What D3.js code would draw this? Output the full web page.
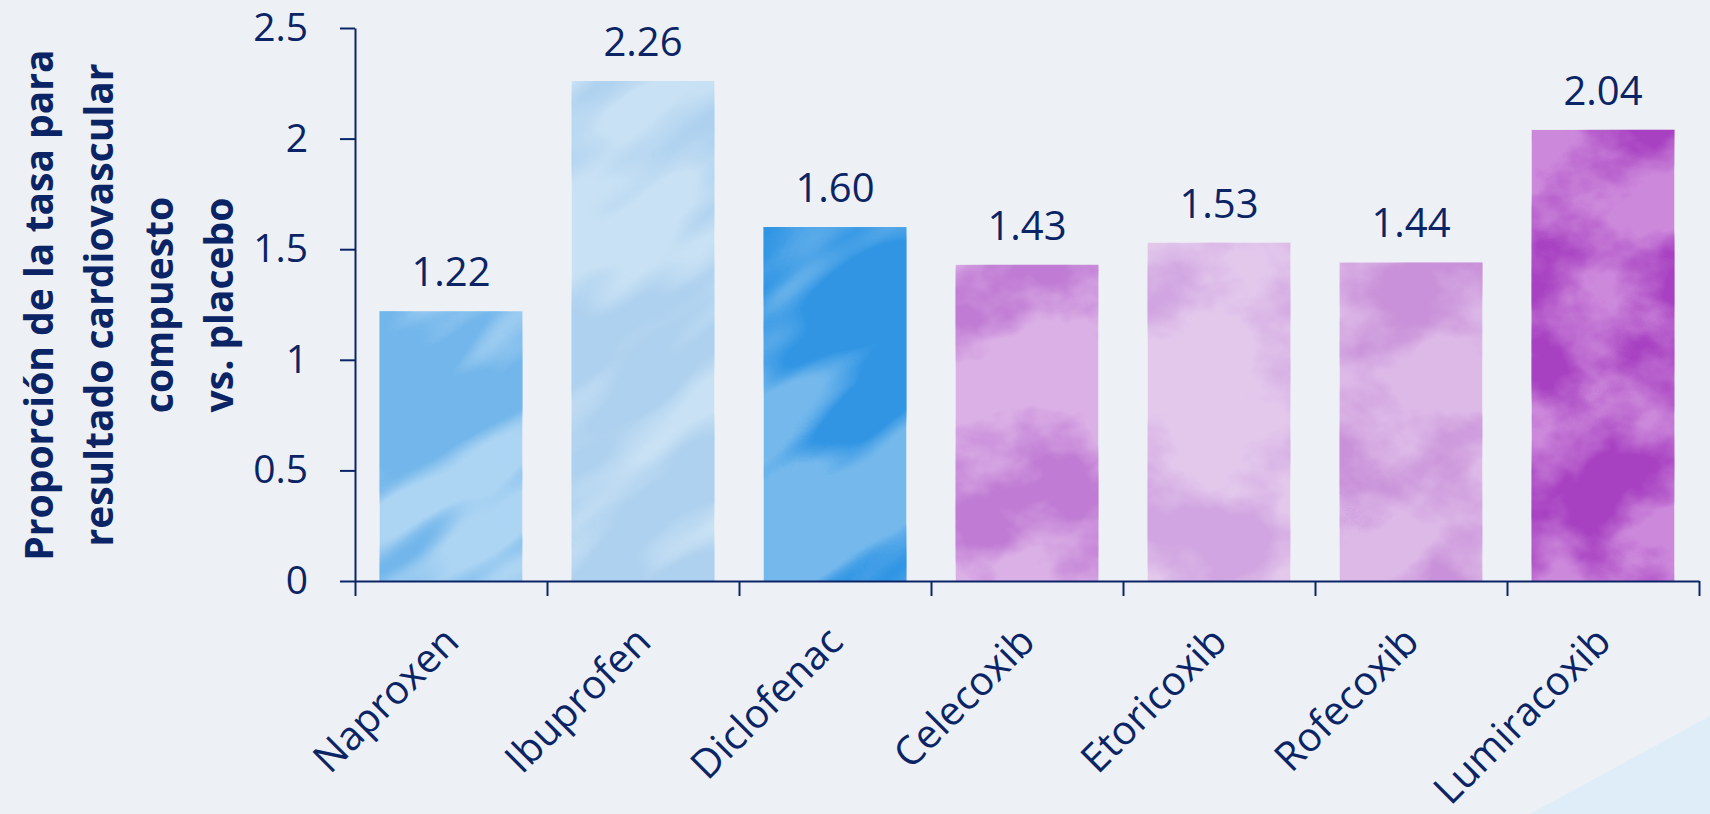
<!DOCTYPE html>
<html>
<head>
<meta charset="utf-8">
<script src="https://cdn.jsdelivr.net/npm/d3@7"></script>
<style>
  html, body { margin: 0; padding: 0; background: #edf1f5; }
  svg { display: block; }
  svg text { font-family: "Open Sans", "Noto Sans", sans-serif; }
</style>
</head>
<body>
<div id="chart"></div>
<script>
const categories = ['Naproxen', 'Ibuprofen', 'Diclofenac', 'Celecoxib', 'Etoricoxib', 'Rofecoxib', 'Lumiracoxib'];
const values = [1.22, 2.26, 1.60, 1.43, 1.53, 1.44, 2.04];
const yTicks = [0, 0.5, 1, 1.5, 2, 2.5];
const yTitleLines = ['Proporción de la tasa para', 'resultado cardiovascular', 'compuesto', 'vs. placebo'];

// watercolor look: a light base and a darker blotchy layer per bar
const baseColors = ['#acd4f3', '#c8e1f4', '#74b8ec', '#dbb0e6', '#e3c8ec', '#ddb9e8', '#cc88db'];
const inkColors = ['#72b6eb', '#aed1ef', '#3095e4', '#c07bd4', '#d1a5e1', '#c991d9', '#a740c1'];

const W = 1710, H = 814;
const navy = '#0b2466';
const FONT = '"Open Sans", "Noto Sans", sans-serif';

const svg = d3.select('#chart').append('svg')
    .attr('width', W)
    .attr('height', H);

// background + pale corner shape
svg.append('rect').attr('width', W).attr('height', H).attr('fill', '#edf1f5');
svg.append('path')
    .attr('d', `M1530,${H}L${W},716L${W},${H}Z`)
    .attr('fill', '#deedf8');

const defs = svg.append('defs');

const x = d3.scaleBand()
    .domain(categories)
    .range([355, 1699])
    .paddingInner(0.255)
    .paddingOuter(0.1275);

const xEdges = d3.scaleLinear()
    .domain([0, categories.length])
    .range([355, 1699]);

const y = d3.scaleLinear()
    .domain([0, 2.5])
    .range([581, 28]);

// noise filters + clips for the bars
categories.forEach((c, i) => {
    const blue = i < 3;
    const f = defs.append('filter')
        .attr('id', 'wc' + i)
        .attr('x', 0).attr('y', 0).attr('width', 1).attr('height', 1);
    f.append('feTurbulence')
        .attr('type', 'fractalNoise')
        .attr('baseFrequency', blue ? '0.0035 0.011' : '0.007 0.009')
        .attr('numOctaves', blue ? 3 : 5)
        .attr('seed', i * 7 + 3)
        .attr('result', 'noise');
    f.append('feColorMatrix')
        .attr('in', 'noise')
        .attr('type', 'matrix')
        .attr('values', '0 0 0 0 0  0 0 0 0 0  0 0 0 0 0  ' + (blue ? '6 0 0 0 -2.25' : '4 0 0 0 -1.6'))
        .attr('result', 'mask');
    f.append('feComposite')
        .attr('in', 'SourceGraphic')
        .attr('in2', 'mask')
        .attr('operator', 'in');

    defs.append('clipPath')
        .attr('id', 'clip' + i)
        .append('rect')
        .attr('x', x(c))
        .attr('y', y(values[i]))
        .attr('width', x.bandwidth())
        .attr('height', y(0) - y(values[i]));
});

const bars = svg.append('g');
const barG = bars.selectAll('g')
    .data(categories)
    .join('g')
    .attr('clip-path', (d, i) => `url(#clip${i})`);

barG.append('rect')
    .attr('x', d => x(d))
    .attr('y', (d, i) => y(values[i]))
    .attr('width', x.bandwidth())
    .attr('height', (d, i) => y(0) - y(values[i]))
    .attr('fill', (d, i) => baseColors[i]);

// ink layer drawn rotated so the blue streaks run diagonally
barG.append('rect')
    .attr('x', d => x(d) - 300)
    .attr('y', (d, i) => y(values[i]) - 300)
    .attr('width', x.bandwidth() + 600)
    .attr('height', (d, i) => y(0) - y(values[i]) + 600)
    .attr('transform', (d, i) => {
        const cx = x(d) + x.bandwidth() / 2, cy = (y(values[i]) + y(0)) / 2;
        return `rotate(${i < 3 ? -35 : 0},${cx},${cy})`;
    })
    .attr('fill', (d, i) => inkColors[i])
    .attr('filter', (d, i) => `url(#wc${i})`);

// value labels
svg.append('g').selectAll('text')
    .data(categories)
    .join('text')
    .attr('x', d => x(d) + x.bandwidth() / 2)
    .attr('y', (d, i) => y(values[i]) - 25)
    .attr('text-anchor', 'middle')
    .attr('fill', navy)
    .style('font-size', '40px')
    .text((d, i) => values[i].toFixed(2));

// y axis
const yAxis = svg.append('g')
    .attr('transform', 'translate(355,0)')
    .call(d3.axisLeft(y).tickValues(yTicks).tickFormat(d => String(d))
        .tickSize(15).tickSizeOuter(0).tickPadding(32));
yAxis.selectAll('path, line').attr('stroke', navy).attr('stroke-width', 2);
yAxis.selectAll('text').attr('fill', navy).style('font-size', '39px').style('font-family', FONT);

// x axis: line and boundary ticks
const xAxis = svg.append('g')
    .attr('transform', `translate(0,${y(0)})`)
    .call(d3.axisBottom(xEdges).tickValues(d3.range(categories.length + 1)).tickFormat('')
        .tickSize(15).tickSizeOuter(0));
xAxis.selectAll('path, line').attr('stroke', navy).attr('stroke-width', 2);

// x category labels, rotated
const xLab = svg.append('g')
    .attr('transform', `translate(0,${y(0)})`)
    .call(d3.axisBottom(x).tickSize(0));
xLab.select('.domain').remove();
xLab.selectAll('text')
    .attr('x', null).attr('y', null).attr('dy', null)
    .attr('transform', 'translate(10,63) rotate(-45)')
    .attr('text-anchor', 'end')
    .attr('fill', navy)
    .style('font-size', '40px')
    .style('font-family', FONT);

// y title
svg.append('g').selectAll('text')
    .data(yTitleLines)
    .join('text')
    .attr('transform', (d, i) => `translate(${53 + i * 60},305) rotate(-90)`)
    .attr('text-anchor', 'middle')
    .attr('fill', navy)
    .style('font-size', '39px')
    .style('font-weight', 'bold')
    .text(d => d);
</script>
</body>
</html>
